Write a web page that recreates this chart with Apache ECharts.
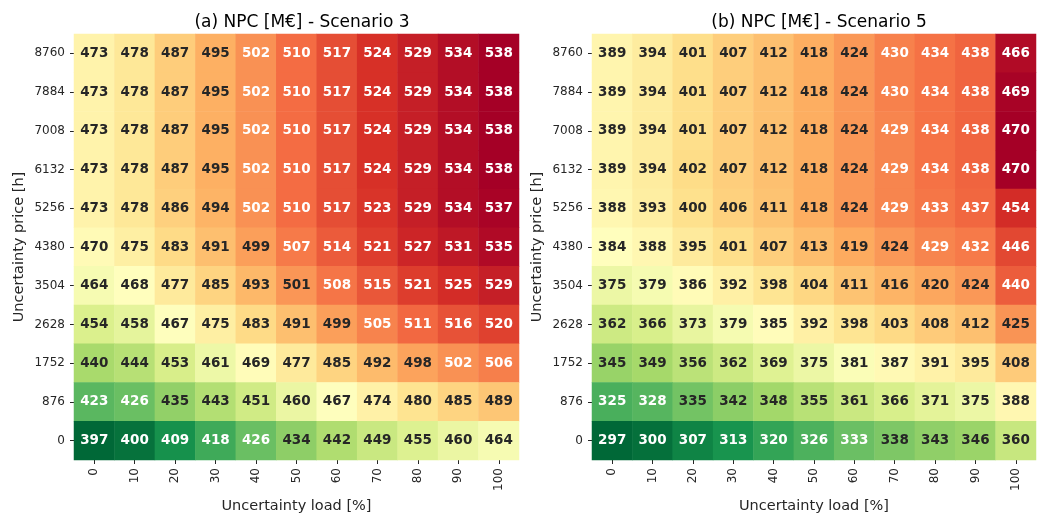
<!DOCTYPE html>
<html>
<head>
<meta charset="utf-8">
<script src="https://cdn.jsdelivr.net/npm/echarts@6/dist/echarts.min.js"></script>
<style>
  html, body { margin: 0; padding: 0; background: #fff; }
  #chart { width: 1042px; height: 513px; }
</style>
</head>
<body>
<div id="chart"></div>
<script>
// x: uncertainty load [%], y: uncertainty price [h] (bottom -> top)
const loadLabels = ["0", "10", "20", "30", "40", "50", "60", "70", "80", "90", "100"];
const priceLabels = ["0", "876", "1752", "2628", "3504", "4380", "5256", "6132", "7008", "7884", "8760"];

// rows listed top (8760) -> bottom (0)
const npcScenario3 = [
  [473, 478, 487, 495, 502, 510, 517, 524, 529, 534, 538],
  [473, 478, 487, 495, 502, 510, 517, 524, 529, 534, 538],
  [473, 478, 487, 495, 502, 510, 517, 524, 529, 534, 538],
  [473, 478, 487, 495, 502, 510, 517, 524, 529, 534, 538],
  [473, 478, 486, 494, 502, 510, 517, 523, 529, 534, 537],
  [470, 475, 483, 491, 499, 507, 514, 521, 527, 531, 535],
  [464, 468, 477, 485, 493, 501, 508, 515, 521, 525, 529],
  [454, 458, 467, 475, 483, 491, 499, 505, 511, 516, 520],
  [440, 444, 453, 461, 469, 477, 485, 492, 498, 502, 506],
  [423, 426, 435, 443, 451, 460, 467, 474, 480, 485, 489],
  [397, 400, 409, 418, 426, 434, 442, 449, 455, 460, 464]
];
const npcScenario5 = [
  [389, 394, 401, 407, 412, 418, 424, 430, 434, 438, 466],
  [389, 394, 401, 407, 412, 418, 424, 430, 434, 438, 469],
  [389, 394, 401, 407, 412, 418, 424, 429, 434, 438, 470],
  [389, 394, 402, 407, 412, 418, 424, 429, 434, 438, 470],
  [388, 393, 400, 406, 411, 418, 424, 429, 433, 437, 454],
  [384, 388, 395, 401, 407, 413, 419, 424, 429, 432, 446],
  [375, 379, 386, 392, 398, 404, 411, 416, 420, 424, 440],
  [362, 366, 373, 379, 385, 392, 398, 403, 408, 412, 425],
  [345, 349, 356, 362, 369, 375, 381, 387, 391, 395, 408],
  [325, 328, 335, 342, 348, 355, 361, 366, 371, 375, 388],
  [297, 300, 307, 313, 320, 326, 333, 338, 343, 346, 360]
];

// RdYlGn_r
const cmap = ["#006837", "#1a9850", "#66bd63", "#a6d96a", "#d9ef8b", "#ffffbf",
              "#fee08b", "#fdae61", "#f46d43", "#d73027", "#a50026"];
const FONT = "DejaVu Sans";

function hexToRgb(h) {
  return [parseInt(h.slice(1, 3), 16), parseInt(h.slice(3, 5), 16), parseInt(h.slice(5, 7), 16)];
}
function colorAt(t) {
  t = Math.max(0, Math.min(1, t));
  const p = t * (cmap.length - 1);
  const i = Math.min(Math.floor(p), cmap.length - 2);
  const f = p - i;
  const a = hexToRgb(cmap[i]), b = hexToRgb(cmap[i + 1]);
  return a.map((v, k) => v + (b[k] - v) * f);
}
// luminance rule like seaborn's annotation colour (threshold nudged to match the picture)
function textColor(rgb) {
  const lin = rgb.map(c => {
    c = c / 255;
    return c <= 0.03928 ? c / 12.92 : Math.pow((c + 0.055) / 1.055, 2.4);
  });
  const lum = 0.2126 * lin[0] + 0.7152 * lin[1] + 0.0722 * lin[2];
  return lum > 0.416 ? "#262626" : "#ffffff";
}

function buildData(rows) {
  const flat = rows.flat();
  const min = Math.min(...flat), max = Math.max(...flat);
  const data = [];
  rows.forEach((row, r) => {
    const y = rows.length - 1 - r;
    row.forEach((v, x) => {
      data.push({
        value: [x, y, v],
        label: { color: textColor(colorAt((v - min) / (max - min))) }
      });
    });
  });
  return { data, min, max };
}

const s3 = buildData(npcScenario3);
const s5 = buildData(npcScenario5);

// fixed plot boxes, no auto shrinking for labels
const grids = [
  { left: 74, top: 34, width: 445, height: 426, outerBoundsMode: "none", containLabel: false },
  { left: 592, top: 34, width: 444, height: 426, outerBoundsMode: "none", containLabel: false }
];

function xAxis(i) {
  return {
    type: "category", gridIndex: i, data: loadLabels,
    name: "Uncertainty load [%]", nameLocation: "middle", nameGap: 34,
    nameTextStyle: { fontFamily: FONT, fontSize: 14.5, color: "#262626" },
    axisLine: { show: false },
    axisTick: { show: true, alignWithLabel: true, length: 4, lineStyle: { color: "#262626" } },
    axisLabel: { rotate: 90, fontFamily: FONT, fontSize: 12, color: "#262626", margin: 8 },
    splitLine: { show: false }
  };
}
function yAxis(i) {
  return {
    type: "category", gridIndex: i, data: priceLabels,
    name: "Uncertainty price [h]", nameLocation: "middle", nameGap: 47,
    nameTextStyle: { fontFamily: FONT, fontSize: 14.5, color: "#262626" },
    axisLine: { show: false },
    axisTick: { show: true, alignWithLabel: true, length: 4, lineStyle: { color: "#262626" } },
    axisLabel: { fontFamily: FONT, fontSize: 12, color: "#262626", margin: 9 },
    splitLine: { show: false }
  };
}

const labelStyle = { show: true, fontFamily: FONT, fontSize: 13.5, fontWeight: "bold" };

const chart = echarts.init(document.getElementById("chart"));
chart.setOption({
  animation: false,
  backgroundColor: "#fff",
  title: [
    { text: "(a) NPC [M€] - Scenario 3", left: 297, top: 9, textAlign: "center",
      textStyle: { fontFamily: FONT, fontSize: 17, fontWeight: "normal", color: "#000" } },
    { text: "(b) NPC [M€] - Scenario 5", left: 814, top: 9, textAlign: "center",
      textStyle: { fontFamily: FONT, fontSize: 17, fontWeight: "normal", color: "#000" } }
  ],
  grid: grids,
  xAxis: [xAxis(0), xAxis(1)],
  yAxis: [yAxis(0), yAxis(1)],
  visualMap: [
    { type: "continuous", show: false, seriesIndex: 0, dimension: 2,
      min: s3.min, max: s3.max, inRange: { color: cmap } },
    { type: "continuous", show: false, seriesIndex: 1, dimension: 2,
      min: s5.min, max: s5.max, inRange: { color: cmap } }
  ],
  series: [
    { type: "heatmap", xAxisIndex: 0, yAxisIndex: 0, data: s3.data, label: labelStyle },
    { type: "heatmap", xAxisIndex: 1, yAxisIndex: 1, data: s5.data, label: labelStyle }
  ]
});
</script>
</body>
</html>
